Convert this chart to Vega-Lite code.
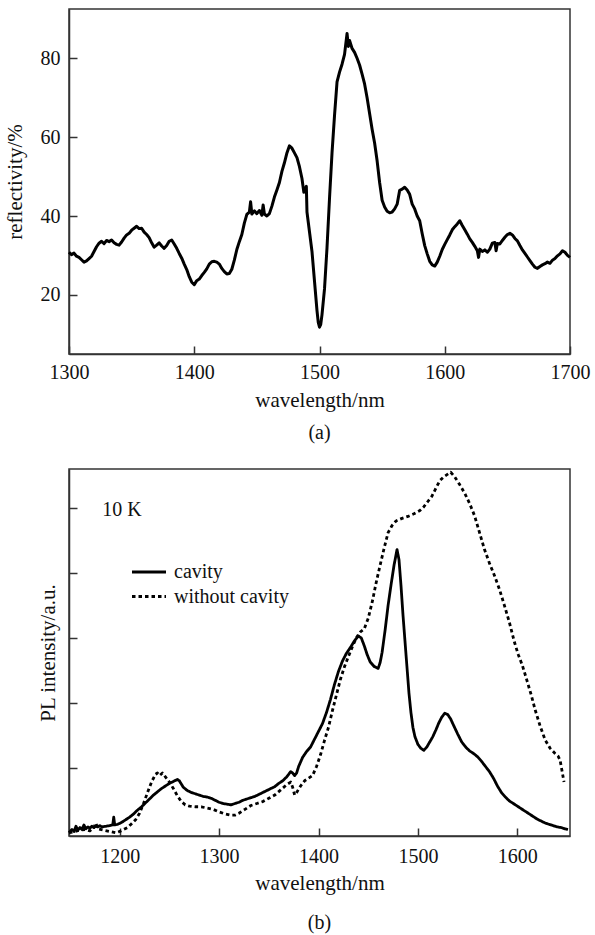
{
  "$schema": "https://vega.github.io/schema/vega-lite/v6.json",
  "padding": {"left": 3, "top": 8, "right": 20, "bottom": 5},
  "spacing": 24,
  "resolve": {"scale": {"strokeDash": "independent"}, "legend": {"strokeDash": "independent"}},
  "config": {
    "font": "Liberation Serif",
    "view": {"stroke": "#333", "strokeWidth": 1.5},
    "axis": {
      "grid": false,
      "domainColor": "#333",
      "domainWidth": 1.5,
      "tickColor": "#333",
      "tickWidth": 1.5,
      "tickSize": -8,
      "labelFont": "Liberation Serif",
      "labelFontSize": 20,
      "labelColor": "#111",
      "labelFlush": false,
      "labelOverlap": false,
      "format": "d",
      "titleFont": "Liberation Serif",
      "titleFontSize": 21,
      "titleFontWeight": "normal",
      "titleColor": "#111"
    },
    "title": {"font": "Liberation Serif", "fontSize": 20, "fontWeight": "normal", "color": "#111", "orient": "bottom", "anchor": "middle"}
  },
  "datasets": {
    "refl": [
      {"wavelength": 1300, "reflectivity": 30.8}, {"wavelength": 1302, "reflectivity": 30.2}, {"wavelength": 1304, "reflectivity": 30.6},
      {"wavelength": 1306, "reflectivity": 29.8}, {"wavelength": 1308, "reflectivity": 29.5}, {"wavelength": 1310, "reflectivity": 28.9},
      {"wavelength": 1312, "reflectivity": 28.3}, {"wavelength": 1314, "reflectivity": 28.6}, {"wavelength": 1316, "reflectivity": 29.2},
      {"wavelength": 1318, "reflectivity": 29.8}, {"wavelength": 1320, "reflectivity": 31.0}, {"wavelength": 1322, "reflectivity": 32.2},
      {"wavelength": 1324, "reflectivity": 33.1}, {"wavelength": 1326, "reflectivity": 33.6}, {"wavelength": 1328, "reflectivity": 33.0},
      {"wavelength": 1330, "reflectivity": 33.8}, {"wavelength": 1332, "reflectivity": 33.5}, {"wavelength": 1334, "reflectivity": 33.9},
      {"wavelength": 1336, "reflectivity": 33.2}, {"wavelength": 1338, "reflectivity": 32.8}, {"wavelength": 1340, "reflectivity": 32.6},
      {"wavelength": 1342, "reflectivity": 33.4}, {"wavelength": 1344, "reflectivity": 34.4}, {"wavelength": 1346, "reflectivity": 35.2},
      {"wavelength": 1348, "reflectivity": 35.6}, {"wavelength": 1350, "reflectivity": 36.4}, {"wavelength": 1352, "reflectivity": 36.9},
      {"wavelength": 1354, "reflectivity": 37.4}, {"wavelength": 1356, "reflectivity": 36.8}, {"wavelength": 1358, "reflectivity": 36.9},
      {"wavelength": 1360, "reflectivity": 35.9}, {"wavelength": 1362, "reflectivity": 35.3}, {"wavelength": 1364, "reflectivity": 34.5},
      {"wavelength": 1366, "reflectivity": 33.2}, {"wavelength": 1368, "reflectivity": 32.1}, {"wavelength": 1370, "reflectivity": 32.6},
      {"wavelength": 1372, "reflectivity": 33.2}, {"wavelength": 1374, "reflectivity": 32.4}, {"wavelength": 1376, "reflectivity": 31.8},
      {"wavelength": 1378, "reflectivity": 32.5}, {"wavelength": 1380, "reflectivity": 33.6}, {"wavelength": 1382, "reflectivity": 33.9},
      {"wavelength": 1384, "reflectivity": 32.9}, {"wavelength": 1386, "reflectivity": 31.8}, {"wavelength": 1388, "reflectivity": 30.5},
      {"wavelength": 1390, "reflectivity": 29.3}, {"wavelength": 1392, "reflectivity": 27.8}, {"wavelength": 1394, "reflectivity": 26.4},
      {"wavelength": 1396, "reflectivity": 24.6}, {"wavelength": 1398, "reflectivity": 23.2}, {"wavelength": 1400, "reflectivity": 22.6},
      {"wavelength": 1402, "reflectivity": 23.6}, {"wavelength": 1404, "reflectivity": 24.0}, {"wavelength": 1406, "reflectivity": 24.9},
      {"wavelength": 1408, "reflectivity": 25.7}, {"wavelength": 1410, "reflectivity": 26.6}, {"wavelength": 1412, "reflectivity": 27.8},
      {"wavelength": 1414, "reflectivity": 28.4}, {"wavelength": 1416, "reflectivity": 28.5}, {"wavelength": 1418, "reflectivity": 28.3},
      {"wavelength": 1420, "reflectivity": 27.8}, {"wavelength": 1422, "reflectivity": 26.7}, {"wavelength": 1424, "reflectivity": 25.9},
      {"wavelength": 1426, "reflectivity": 25.3}, {"wavelength": 1428, "reflectivity": 25.4}, {"wavelength": 1430, "reflectivity": 26.5},
      {"wavelength": 1432, "reflectivity": 28.8}, {"wavelength": 1434, "reflectivity": 31.5}, {"wavelength": 1436, "reflectivity": 33.5},
      {"wavelength": 1438, "reflectivity": 35.3}, {"wavelength": 1440, "reflectivity": 38.2}, {"wavelength": 1442, "reflectivity": 40.4},
      {"wavelength": 1444, "reflectivity": 41.0}, {"wavelength": 1445, "reflectivity": 43.6}, {"wavelength": 1446, "reflectivity": 40.5},
      {"wavelength": 1448, "reflectivity": 41.3}, {"wavelength": 1450, "reflectivity": 40.6}, {"wavelength": 1452, "reflectivity": 41.4},
      {"wavelength": 1454, "reflectivity": 40.2}, {"wavelength": 1455, "reflectivity": 42.8}, {"wavelength": 1456, "reflectivity": 40.5},
      {"wavelength": 1458, "reflectivity": 40.0}, {"wavelength": 1460, "reflectivity": 40.6}, {"wavelength": 1462, "reflectivity": 42.5},
      {"wavelength": 1464, "reflectivity": 44.8}, {"wavelength": 1466, "reflectivity": 46.6}, {"wavelength": 1468, "reflectivity": 48.5},
      {"wavelength": 1470, "reflectivity": 51.3}, {"wavelength": 1472, "reflectivity": 53.5}, {"wavelength": 1474, "reflectivity": 56.0},
      {"wavelength": 1476, "reflectivity": 57.8}, {"wavelength": 1478, "reflectivity": 57.2}, {"wavelength": 1480, "reflectivity": 56.0},
      {"wavelength": 1482, "reflectivity": 54.8}, {"wavelength": 1484, "reflectivity": 52.5}, {"wavelength": 1486, "reflectivity": 49.5},
      {"wavelength": 1487.5, "reflectivity": 46.0}, {"wavelength": 1489.5, "reflectivity": 47.5}, {"wavelength": 1490, "reflectivity": 41.0},
      {"wavelength": 1492, "reflectivity": 36.0}, {"wavelength": 1494, "reflectivity": 31.0}, {"wavelength": 1496, "reflectivity": 23.5},
      {"wavelength": 1498, "reflectivity": 16.0}, {"wavelength": 1499, "reflectivity": 13.0}, {"wavelength": 1500, "reflectivity": 11.8},
      {"wavelength": 1501, "reflectivity": 12.5}, {"wavelength": 1502, "reflectivity": 15.0}, {"wavelength": 1504, "reflectivity": 21.5},
      {"wavelength": 1506, "reflectivity": 32.0}, {"wavelength": 1508, "reflectivity": 44.5}, {"wavelength": 1510, "reflectivity": 56.0},
      {"wavelength": 1512, "reflectivity": 65.5}, {"wavelength": 1514, "reflectivity": 74.0}, {"wavelength": 1516, "reflectivity": 76.5},
      {"wavelength": 1518, "reflectivity": 78.5}, {"wavelength": 1520, "reflectivity": 81.0}, {"wavelength": 1522, "reflectivity": 86.3},
      {"wavelength": 1523, "reflectivity": 83.0}, {"wavelength": 1524, "reflectivity": 84.5}, {"wavelength": 1526, "reflectivity": 82.5},
      {"wavelength": 1528, "reflectivity": 81.5}, {"wavelength": 1530, "reflectivity": 80.0}, {"wavelength": 1532, "reflectivity": 78.3},
      {"wavelength": 1534, "reflectivity": 76.0}, {"wavelength": 1536, "reflectivity": 73.5}, {"wavelength": 1538, "reflectivity": 70.0},
      {"wavelength": 1540, "reflectivity": 66.0}, {"wavelength": 1542, "reflectivity": 62.0}, {"wavelength": 1544, "reflectivity": 58.5},
      {"wavelength": 1546, "reflectivity": 54.0}, {"wavelength": 1548, "reflectivity": 48.5}, {"wavelength": 1550, "reflectivity": 44.0},
      {"wavelength": 1552, "reflectivity": 42.3}, {"wavelength": 1554, "reflectivity": 41.2}, {"wavelength": 1556, "reflectivity": 40.8},
      {"wavelength": 1558, "reflectivity": 41.0}, {"wavelength": 1560, "reflectivity": 41.8}, {"wavelength": 1562, "reflectivity": 43.0},
      {"wavelength": 1564, "reflectivity": 46.5}, {"wavelength": 1566, "reflectivity": 46.8}, {"wavelength": 1568, "reflectivity": 47.3},
      {"wavelength": 1570, "reflectivity": 46.6}, {"wavelength": 1572, "reflectivity": 45.5}, {"wavelength": 1574, "reflectivity": 43.0},
      {"wavelength": 1576, "reflectivity": 41.8}, {"wavelength": 1578, "reflectivity": 40.0}, {"wavelength": 1580, "reflectivity": 38.8},
      {"wavelength": 1582, "reflectivity": 35.5}, {"wavelength": 1584, "reflectivity": 32.5}, {"wavelength": 1586, "reflectivity": 30.4},
      {"wavelength": 1588, "reflectivity": 28.5}, {"wavelength": 1590, "reflectivity": 27.6}, {"wavelength": 1592, "reflectivity": 27.3},
      {"wavelength": 1594, "reflectivity": 28.3}, {"wavelength": 1596, "reflectivity": 29.8}, {"wavelength": 1598, "reflectivity": 31.5},
      {"wavelength": 1600, "reflectivity": 32.8}, {"wavelength": 1602, "reflectivity": 34.0}, {"wavelength": 1604, "reflectivity": 35.2},
      {"wavelength": 1606, "reflectivity": 36.5}, {"wavelength": 1608, "reflectivity": 37.3}, {"wavelength": 1610, "reflectivity": 38.0},
      {"wavelength": 1612, "reflectivity": 38.8}, {"wavelength": 1614, "reflectivity": 37.6}, {"wavelength": 1616, "reflectivity": 36.5},
      {"wavelength": 1618, "reflectivity": 35.4}, {"wavelength": 1620, "reflectivity": 34.2}, {"wavelength": 1622, "reflectivity": 33.3},
      {"wavelength": 1624, "reflectivity": 32.3}, {"wavelength": 1626, "reflectivity": 31.2}, {"wavelength": 1627, "reflectivity": 29.5},
      {"wavelength": 1628, "reflectivity": 31.6}, {"wavelength": 1630, "reflectivity": 31.0}, {"wavelength": 1632, "reflectivity": 31.4},
      {"wavelength": 1634, "reflectivity": 30.8}, {"wavelength": 1636, "reflectivity": 31.6}, {"wavelength": 1638, "reflectivity": 33.1},
      {"wavelength": 1640, "reflectivity": 33.3}, {"wavelength": 1641, "reflectivity": 31.2}, {"wavelength": 1642, "reflectivity": 33.0},
      {"wavelength": 1644, "reflectivity": 32.9}, {"wavelength": 1646, "reflectivity": 33.8}, {"wavelength": 1648, "reflectivity": 34.6},
      {"wavelength": 1650, "reflectivity": 35.3}, {"wavelength": 1652, "reflectivity": 35.6}, {"wavelength": 1654, "reflectivity": 35.2},
      {"wavelength": 1656, "reflectivity": 34.3}, {"wavelength": 1658, "reflectivity": 33.7}, {"wavelength": 1660, "reflectivity": 32.5},
      {"wavelength": 1662, "reflectivity": 31.4}, {"wavelength": 1664, "reflectivity": 30.5}, {"wavelength": 1666, "reflectivity": 29.6},
      {"wavelength": 1668, "reflectivity": 28.7}, {"wavelength": 1670, "reflectivity": 27.8}, {"wavelength": 1672, "reflectivity": 27.0},
      {"wavelength": 1674, "reflectivity": 26.7}, {"wavelength": 1676, "reflectivity": 27.2}, {"wavelength": 1678, "reflectivity": 27.6},
      {"wavelength": 1680, "reflectivity": 27.9}, {"wavelength": 1682, "reflectivity": 28.3}, {"wavelength": 1684, "reflectivity": 28.0},
      {"wavelength": 1686, "reflectivity": 28.8}, {"wavelength": 1688, "reflectivity": 29.2}, {"wavelength": 1690, "reflectivity": 29.9},
      {"wavelength": 1692, "reflectivity": 30.4}, {"wavelength": 1694, "reflectivity": 31.2}, {"wavelength": 1696, "reflectivity": 30.8},
      {"wavelength": 1698, "reflectivity": 30.0}, {"wavelength": 1700, "reflectivity": 29.5}
    ],
    "pl": [
      {"wavelength": 1149, "intensity": 0.00, "series": "cavity"}, {"wavelength": 1152, "intensity": 0.05, "series": "cavity"},
      {"wavelength": 1154, "intensity": 0.02, "series": "cavity"}, {"wavelength": 1156, "intensity": 0.10, "series": "cavity"},
      {"wavelength": 1158, "intensity": 0.04, "series": "cavity"}, {"wavelength": 1160, "intensity": 0.08, "series": "cavity"},
      {"wavelength": 1162, "intensity": 0.05, "series": "cavity"}, {"wavelength": 1164, "intensity": 0.12, "series": "cavity"},
      {"wavelength": 1166, "intensity": 0.06, "series": "cavity"}, {"wavelength": 1168, "intensity": 0.09, "series": "cavity"},
      {"wavelength": 1170, "intensity": 0.07, "series": "cavity"}, {"wavelength": 1172, "intensity": 0.10, "series": "cavity"},
      {"wavelength": 1174, "intensity": 0.08, "series": "cavity"}, {"wavelength": 1176, "intensity": 0.10, "series": "cavity"},
      {"wavelength": 1178, "intensity": 0.09, "series": "cavity"}, {"wavelength": 1180, "intensity": 0.11, "series": "cavity"},
      {"wavelength": 1182, "intensity": 0.09, "series": "cavity"}, {"wavelength": 1186, "intensity": 0.10, "series": "cavity"},
      {"wavelength": 1190, "intensity": 0.11, "series": "cavity"}, {"wavelength": 1193, "intensity": 0.12, "series": "cavity"},
      {"wavelength": 1194, "intensity": 0.24, "series": "cavity"}, {"wavelength": 1195, "intensity": 0.12, "series": "cavity"},
      {"wavelength": 1198, "intensity": 0.13, "series": "cavity"}, {"wavelength": 1202, "intensity": 0.16, "series": "cavity"},
      {"wavelength": 1206, "intensity": 0.20, "series": "cavity"}, {"wavelength": 1210, "intensity": 0.24, "series": "cavity"},
      {"wavelength": 1214, "intensity": 0.29, "series": "cavity"}, {"wavelength": 1218, "intensity": 0.35, "series": "cavity"},
      {"wavelength": 1222, "intensity": 0.40, "series": "cavity"}, {"wavelength": 1226, "intensity": 0.46, "series": "cavity"},
      {"wavelength": 1230, "intensity": 0.52, "series": "cavity"}, {"wavelength": 1234, "intensity": 0.58, "series": "cavity"},
      {"wavelength": 1238, "intensity": 0.63, "series": "cavity"}, {"wavelength": 1242, "intensity": 0.68, "series": "cavity"},
      {"wavelength": 1246, "intensity": 0.72, "series": "cavity"}, {"wavelength": 1250, "intensity": 0.76, "series": "cavity"},
      {"wavelength": 1254, "intensity": 0.79, "series": "cavity"}, {"wavelength": 1258, "intensity": 0.82, "series": "cavity"},
      {"wavelength": 1260, "intensity": 0.80, "series": "cavity"}, {"wavelength": 1262, "intensity": 0.75, "series": "cavity"},
      {"wavelength": 1264, "intensity": 0.70, "series": "cavity"}, {"wavelength": 1268, "intensity": 0.65, "series": "cavity"},
      {"wavelength": 1272, "intensity": 0.62, "series": "cavity"}, {"wavelength": 1276, "intensity": 0.60, "series": "cavity"},
      {"wavelength": 1280, "intensity": 0.58, "series": "cavity"}, {"wavelength": 1284, "intensity": 0.56, "series": "cavity"},
      {"wavelength": 1288, "intensity": 0.55, "series": "cavity"}, {"wavelength": 1292, "intensity": 0.53, "series": "cavity"},
      {"wavelength": 1296, "intensity": 0.50, "series": "cavity"}, {"wavelength": 1300, "intensity": 0.47, "series": "cavity"},
      {"wavelength": 1304, "intensity": 0.45, "series": "cavity"}, {"wavelength": 1308, "intensity": 0.44, "series": "cavity"},
      {"wavelength": 1312, "intensity": 0.43, "series": "cavity"}, {"wavelength": 1316, "intensity": 0.45, "series": "cavity"},
      {"wavelength": 1320, "intensity": 0.47, "series": "cavity"}, {"wavelength": 1324, "intensity": 0.50, "series": "cavity"},
      {"wavelength": 1328, "intensity": 0.52, "series": "cavity"}, {"wavelength": 1332, "intensity": 0.54, "series": "cavity"},
      {"wavelength": 1336, "intensity": 0.56, "series": "cavity"}, {"wavelength": 1340, "intensity": 0.59, "series": "cavity"},
      {"wavelength": 1344, "intensity": 0.62, "series": "cavity"}, {"wavelength": 1348, "intensity": 0.65, "series": "cavity"},
      {"wavelength": 1352, "intensity": 0.68, "series": "cavity"}, {"wavelength": 1356, "intensity": 0.71, "series": "cavity"},
      {"wavelength": 1360, "intensity": 0.76, "series": "cavity"}, {"wavelength": 1364, "intensity": 0.80, "series": "cavity"},
      {"wavelength": 1368, "intensity": 0.86, "series": "cavity"}, {"wavelength": 1372, "intensity": 0.94, "series": "cavity"},
      {"wavelength": 1374, "intensity": 0.92, "series": "cavity"}, {"wavelength": 1376, "intensity": 0.88, "series": "cavity"},
      {"wavelength": 1378, "intensity": 0.92, "series": "cavity"}, {"wavelength": 1380, "intensity": 1.02, "series": "cavity"},
      {"wavelength": 1384, "intensity": 1.16, "series": "cavity"}, {"wavelength": 1388, "intensity": 1.25, "series": "cavity"},
      {"wavelength": 1392, "intensity": 1.32, "series": "cavity"}, {"wavelength": 1396, "intensity": 1.44, "series": "cavity"},
      {"wavelength": 1400, "intensity": 1.56, "series": "cavity"}, {"wavelength": 1404, "intensity": 1.68, "series": "cavity"},
      {"wavelength": 1408, "intensity": 1.85, "series": "cavity"}, {"wavelength": 1412, "intensity": 2.05, "series": "cavity"},
      {"wavelength": 1416, "intensity": 2.28, "series": "cavity"}, {"wavelength": 1420, "intensity": 2.48, "series": "cavity"},
      {"wavelength": 1424, "intensity": 2.64, "series": "cavity"}, {"wavelength": 1428, "intensity": 2.76, "series": "cavity"},
      {"wavelength": 1432, "intensity": 2.85, "series": "cavity"}, {"wavelength": 1436, "intensity": 2.95, "series": "cavity"},
      {"wavelength": 1440, "intensity": 3.03, "series": "cavity"}, {"wavelength": 1443, "intensity": 3.00, "series": "cavity"},
      {"wavelength": 1446, "intensity": 2.88, "series": "cavity"}, {"wavelength": 1449, "intensity": 2.74, "series": "cavity"},
      {"wavelength": 1452, "intensity": 2.63, "series": "cavity"}, {"wavelength": 1456, "intensity": 2.56, "series": "cavity"},
      {"wavelength": 1460, "intensity": 2.53, "series": "cavity"}, {"wavelength": 1462, "intensity": 2.62, "series": "cavity"},
      {"wavelength": 1464, "intensity": 2.78, "series": "cavity"}, {"wavelength": 1467, "intensity": 3.12, "series": "cavity"},
      {"wavelength": 1470, "intensity": 3.50, "series": "cavity"}, {"wavelength": 1473, "intensity": 3.82, "series": "cavity"},
      {"wavelength": 1476, "intensity": 4.12, "series": "cavity"}, {"wavelength": 1479, "intensity": 4.36, "series": "cavity"},
      {"wavelength": 1481, "intensity": 4.20, "series": "cavity"}, {"wavelength": 1483, "intensity": 3.80, "series": "cavity"},
      {"wavelength": 1485, "intensity": 3.35, "series": "cavity"}, {"wavelength": 1487, "intensity": 2.95, "series": "cavity"},
      {"wavelength": 1489, "intensity": 2.55, "series": "cavity"}, {"wavelength": 1491, "intensity": 2.15, "series": "cavity"},
      {"wavelength": 1493, "intensity": 1.85, "series": "cavity"}, {"wavelength": 1495, "intensity": 1.62, "series": "cavity"},
      {"wavelength": 1497, "intensity": 1.48, "series": "cavity"}, {"wavelength": 1500, "intensity": 1.36, "series": "cavity"},
      {"wavelength": 1503, "intensity": 1.30, "series": "cavity"}, {"wavelength": 1506, "intensity": 1.27, "series": "cavity"},
      {"wavelength": 1509, "intensity": 1.32, "series": "cavity"}, {"wavelength": 1512, "intensity": 1.40, "series": "cavity"},
      {"wavelength": 1515, "intensity": 1.48, "series": "cavity"}, {"wavelength": 1518, "intensity": 1.58, "series": "cavity"},
      {"wavelength": 1521, "intensity": 1.69, "series": "cavity"}, {"wavelength": 1524, "intensity": 1.78, "series": "cavity"},
      {"wavelength": 1527, "intensity": 1.84, "series": "cavity"}, {"wavelength": 1530, "intensity": 1.82, "series": "cavity"},
      {"wavelength": 1533, "intensity": 1.75, "series": "cavity"}, {"wavelength": 1536, "intensity": 1.65, "series": "cavity"},
      {"wavelength": 1540, "intensity": 1.52, "series": "cavity"}, {"wavelength": 1544, "intensity": 1.40, "series": "cavity"},
      {"wavelength": 1548, "intensity": 1.32, "series": "cavity"}, {"wavelength": 1552, "intensity": 1.26, "series": "cavity"},
      {"wavelength": 1556, "intensity": 1.22, "series": "cavity"}, {"wavelength": 1560, "intensity": 1.17, "series": "cavity"},
      {"wavelength": 1564, "intensity": 1.10, "series": "cavity"}, {"wavelength": 1568, "intensity": 1.02, "series": "cavity"},
      {"wavelength": 1572, "intensity": 0.94, "series": "cavity"}, {"wavelength": 1576, "intensity": 0.84, "series": "cavity"},
      {"wavelength": 1580, "intensity": 0.72, "series": "cavity"}, {"wavelength": 1584, "intensity": 0.62, "series": "cavity"},
      {"wavelength": 1588, "intensity": 0.55, "series": "cavity"}, {"wavelength": 1592, "intensity": 0.49, "series": "cavity"},
      {"wavelength": 1596, "intensity": 0.45, "series": "cavity"}, {"wavelength": 1600, "intensity": 0.41, "series": "cavity"},
      {"wavelength": 1604, "intensity": 0.37, "series": "cavity"}, {"wavelength": 1608, "intensity": 0.33, "series": "cavity"},
      {"wavelength": 1612, "intensity": 0.29, "series": "cavity"}, {"wavelength": 1616, "intensity": 0.25, "series": "cavity"},
      {"wavelength": 1620, "intensity": 0.21, "series": "cavity"}, {"wavelength": 1624, "intensity": 0.18, "series": "cavity"},
      {"wavelength": 1628, "intensity": 0.15, "series": "cavity"}, {"wavelength": 1632, "intensity": 0.13, "series": "cavity"},
      {"wavelength": 1636, "intensity": 0.11, "series": "cavity"}, {"wavelength": 1640, "intensity": 0.09, "series": "cavity"},
      {"wavelength": 1644, "intensity": 0.08, "series": "cavity"}, {"wavelength": 1648, "intensity": 0.06, "series": "cavity"},
      {"wavelength": 1651, "intensity": 0.05, "series": "cavity"},

      {"wavelength": 1149, "intensity": 0.00, "series": "without cavity"}, {"wavelength": 1155, "intensity": 0.02, "series": "without cavity"},
      {"wavelength": 1160, "intensity": 0.04, "series": "without cavity"}, {"wavelength": 1165, "intensity": 0.05, "series": "without cavity"},
      {"wavelength": 1170, "intensity": 0.03, "series": "without cavity"}, {"wavelength": 1174, "intensity": 0.08, "series": "without cavity"},
      {"wavelength": 1176, "intensity": 0.15, "series": "without cavity"}, {"wavelength": 1178, "intensity": 0.06, "series": "without cavity"},
      {"wavelength": 1184, "intensity": 0.04, "series": "without cavity"}, {"wavelength": 1190, "intensity": 0.02, "series": "without cavity"},
      {"wavelength": 1196, "intensity": 0.00, "series": "without cavity"}, {"wavelength": 1200, "intensity": 0.02, "series": "without cavity"},
      {"wavelength": 1204, "intensity": 0.05, "series": "without cavity"}, {"wavelength": 1208, "intensity": 0.08, "series": "without cavity"},
      {"wavelength": 1212, "intensity": 0.14, "series": "without cavity"}, {"wavelength": 1216, "intensity": 0.20, "series": "without cavity"},
      {"wavelength": 1220, "intensity": 0.30, "series": "without cavity"}, {"wavelength": 1224, "intensity": 0.45, "series": "without cavity"},
      {"wavelength": 1228, "intensity": 0.62, "series": "without cavity"}, {"wavelength": 1232, "intensity": 0.78, "series": "without cavity"},
      {"wavelength": 1236, "intensity": 0.90, "series": "without cavity"}, {"wavelength": 1238, "intensity": 0.92, "series": "without cavity"},
      {"wavelength": 1240, "intensity": 0.88, "series": "without cavity"}, {"wavelength": 1243, "intensity": 0.92, "series": "without cavity"},
      {"wavelength": 1246, "intensity": 0.86, "series": "without cavity"}, {"wavelength": 1250, "intensity": 0.78, "series": "without cavity"},
      {"wavelength": 1254, "intensity": 0.68, "series": "without cavity"}, {"wavelength": 1258, "intensity": 0.57, "series": "without cavity"},
      {"wavelength": 1262, "intensity": 0.48, "series": "without cavity"}, {"wavelength": 1266, "intensity": 0.43, "series": "without cavity"},
      {"wavelength": 1270, "intensity": 0.41, "series": "without cavity"}, {"wavelength": 1276, "intensity": 0.40, "series": "without cavity"},
      {"wavelength": 1282, "intensity": 0.40, "series": "without cavity"}, {"wavelength": 1288, "intensity": 0.38, "series": "without cavity"},
      {"wavelength": 1294, "intensity": 0.36, "series": "without cavity"}, {"wavelength": 1300, "intensity": 0.32, "series": "without cavity"},
      {"wavelength": 1306, "intensity": 0.29, "series": "without cavity"}, {"wavelength": 1312, "intensity": 0.27, "series": "without cavity"},
      {"wavelength": 1316, "intensity": 0.27, "series": "without cavity"}, {"wavelength": 1320, "intensity": 0.30, "series": "without cavity"},
      {"wavelength": 1326, "intensity": 0.36, "series": "without cavity"}, {"wavelength": 1332, "intensity": 0.42, "series": "without cavity"},
      {"wavelength": 1338, "intensity": 0.45, "series": "without cavity"}, {"wavelength": 1344, "intensity": 0.48, "series": "without cavity"},
      {"wavelength": 1350, "intensity": 0.53, "series": "without cavity"}, {"wavelength": 1356, "intensity": 0.58, "series": "without cavity"},
      {"wavelength": 1362, "intensity": 0.66, "series": "without cavity"}, {"wavelength": 1368, "intensity": 0.74, "series": "without cavity"},
      {"wavelength": 1372, "intensity": 0.78, "series": "without cavity"}, {"wavelength": 1374, "intensity": 0.70, "series": "without cavity"},
      {"wavelength": 1376, "intensity": 0.58, "series": "without cavity"}, {"wavelength": 1378, "intensity": 0.62, "series": "without cavity"},
      {"wavelength": 1382, "intensity": 0.72, "series": "without cavity"}, {"wavelength": 1386, "intensity": 0.80, "series": "without cavity"},
      {"wavelength": 1390, "intensity": 0.84, "series": "without cavity"}, {"wavelength": 1394, "intensity": 0.88, "series": "without cavity"},
      {"wavelength": 1398, "intensity": 1.02, "series": "without cavity"}, {"wavelength": 1402, "intensity": 1.20, "series": "without cavity"},
      {"wavelength": 1406, "intensity": 1.42, "series": "without cavity"}, {"wavelength": 1410, "intensity": 1.62, "series": "without cavity"},
      {"wavelength": 1414, "intensity": 1.88, "series": "without cavity"}, {"wavelength": 1418, "intensity": 2.12, "series": "without cavity"},
      {"wavelength": 1422, "intensity": 2.36, "series": "without cavity"}, {"wavelength": 1426, "intensity": 2.55, "series": "without cavity"},
      {"wavelength": 1430, "intensity": 2.71, "series": "without cavity"}, {"wavelength": 1434, "intensity": 2.86, "series": "without cavity"},
      {"wavelength": 1438, "intensity": 3.00, "series": "without cavity"}, {"wavelength": 1442, "intensity": 3.09, "series": "without cavity"},
      {"wavelength": 1446, "intensity": 3.14, "series": "without cavity"}, {"wavelength": 1450, "intensity": 3.30, "series": "without cavity"},
      {"wavelength": 1454, "intensity": 3.55, "series": "without cavity"}, {"wavelength": 1458, "intensity": 3.85, "series": "without cavity"},
      {"wavelength": 1462, "intensity": 4.12, "series": "without cavity"}, {"wavelength": 1466, "intensity": 4.38, "series": "without cavity"},
      {"wavelength": 1470, "intensity": 4.62, "series": "without cavity"}, {"wavelength": 1474, "intensity": 4.73, "series": "without cavity"},
      {"wavelength": 1478, "intensity": 4.80, "series": "without cavity"}, {"wavelength": 1484, "intensity": 4.84, "series": "without cavity"},
      {"wavelength": 1490, "intensity": 4.87, "series": "without cavity"}, {"wavelength": 1496, "intensity": 4.91, "series": "without cavity"},
      {"wavelength": 1502, "intensity": 4.96, "series": "without cavity"}, {"wavelength": 1506, "intensity": 5.02, "series": "without cavity"},
      {"wavelength": 1510, "intensity": 5.10, "series": "without cavity"}, {"wavelength": 1514, "intensity": 5.18, "series": "without cavity"},
      {"wavelength": 1518, "intensity": 5.30, "series": "without cavity"}, {"wavelength": 1522, "intensity": 5.42, "series": "without cavity"},
      {"wavelength": 1526, "intensity": 5.48, "series": "without cavity"}, {"wavelength": 1530, "intensity": 5.52, "series": "without cavity"},
      {"wavelength": 1533, "intensity": 5.55, "series": "without cavity"}, {"wavelength": 1537, "intensity": 5.48, "series": "without cavity"},
      {"wavelength": 1542, "intensity": 5.36, "series": "without cavity"}, {"wavelength": 1547, "intensity": 5.23, "series": "without cavity"},
      {"wavelength": 1552, "intensity": 5.07, "series": "without cavity"}, {"wavelength": 1557, "intensity": 4.88, "series": "without cavity"},
      {"wavelength": 1562, "intensity": 4.62, "series": "without cavity"}, {"wavelength": 1567, "intensity": 4.36, "series": "without cavity"},
      {"wavelength": 1572, "intensity": 4.15, "series": "without cavity"}, {"wavelength": 1577, "intensity": 3.96, "series": "without cavity"},
      {"wavelength": 1582, "intensity": 3.75, "series": "without cavity"}, {"wavelength": 1587, "intensity": 3.50, "series": "without cavity"},
      {"wavelength": 1592, "intensity": 3.24, "series": "without cavity"}, {"wavelength": 1597, "intensity": 2.94, "series": "without cavity"},
      {"wavelength": 1601, "intensity": 2.74, "series": "without cavity"}, {"wavelength": 1605, "intensity": 2.58, "series": "without cavity"},
      {"wavelength": 1609, "intensity": 2.38, "series": "without cavity"}, {"wavelength": 1614, "intensity": 2.12, "series": "without cavity"},
      {"wavelength": 1618, "intensity": 1.89, "series": "without cavity"}, {"wavelength": 1623, "intensity": 1.64, "series": "without cavity"},
      {"wavelength": 1628, "intensity": 1.43, "series": "without cavity"}, {"wavelength": 1633, "intensity": 1.30, "series": "without cavity"},
      {"wavelength": 1638, "intensity": 1.22, "series": "without cavity"}, {"wavelength": 1641, "intensity": 1.18, "series": "without cavity"},
      {"wavelength": 1643, "intensity": 1.12, "series": "without cavity"}, {"wavelength": 1645, "intensity": 0.95, "series": "without cavity"},
      {"wavelength": 1647, "intensity": 0.78, "series": "without cavity"}
    ],
    "temperature": [
      {"wavelength": 1182.5, "intensity": 4.88, "label": "10 K"}
    ]
  },
  "vconcat": [
    {
      "width": 501,
      "height": 345,
      "title": {"text": "(a)", "offset": 13},
      "data": {"name": "refl"},
      "mark": {"type": "line", "color": "black", "strokeWidth": 3, "strokeJoin": "round"},
      "encoding": {
        "x": {
          "field": "wavelength",
          "type": "quantitative",
          "scale": {"domain": [1300, 1700], "nice": false, "zero": false},
          "axis": {"title": "wavelength/nm", "values": [1300, 1400, 1500, 1600, 1700], "labelPadding": 16, "titlePadding": 7}
        },
        "y": {
          "field": "reflectivity",
          "type": "quantitative",
          "scale": {"domain": [5, 92.5], "nice": false, "zero": false},
          "axis": {"title": "reflectivity/%", "values": [20, 40, 60, 80], "labelPadding": 17, "titlePadding": 15}
        }
      }
    },
    {
      "width": 501,
      "height": 367,
      "title": {"text": "(b)", "offset": 20},
      "layer": [
        {
          "data": {"name": "pl"},
          "mark": {"type": "line", "color": "black", "strokeWidth": 2.8, "strokeJoin": "round"},
          "encoding": {
            "x": {
              "field": "wavelength",
              "type": "quantitative",
              "scale": {"domain": [1149, 1653], "nice": false, "zero": false},
              "axis": {"title": "wavelength/nm", "values": [1200, 1300, 1400, 1500, 1600], "labelPadding": 18, "titlePadding": 6}
            },
            "y": {
              "field": "intensity",
              "type": "quantitative",
              "scale": {"domain": [-0.05, 5.6], "nice": false, "zero": false},
              "axis": {"title": "PL intensity/a.u.", "values": [1, 2, 3, 4, 5], "labels": false, "titlePadding": 10}
            },
            "strokeDash": {
              "field": "series",
              "type": "nominal",
              "scale": {"domain": ["cavity", "without cavity"], "range": [[1, 0], [3.5, 3]]},
              "legend": {
                "title": null,
                "orient": "none",
                "legendX": 70,
                "legendY": 93,
                "symbolType": "M-2,0H2",
                "symbolSize": 289,
                "symbolStrokeWidth": 2.8,
                "symbolStrokeColor": "black",
                "symbolFillColor": "transparent",
                "labelFont": "Liberation Serif",
                "labelFontSize": 20,
                "labelColor": "#111",
                "labelOffset": 15,
                "rowPadding": 4.5
              }
            }
          }
        },
        {
          "data": {"name": "temperature"},
          "mark": {"type": "text", "align": "left", "baseline": "alphabetic", "font": "Liberation Serif", "fontSize": 20, "color": "#111"},
          "encoding": {
            "x": {"field": "wavelength", "type": "quantitative"},
            "y": {"field": "intensity", "type": "quantitative"},
            "text": {"field": "label"}
          }
        }
      ]
    }
  ]
}
